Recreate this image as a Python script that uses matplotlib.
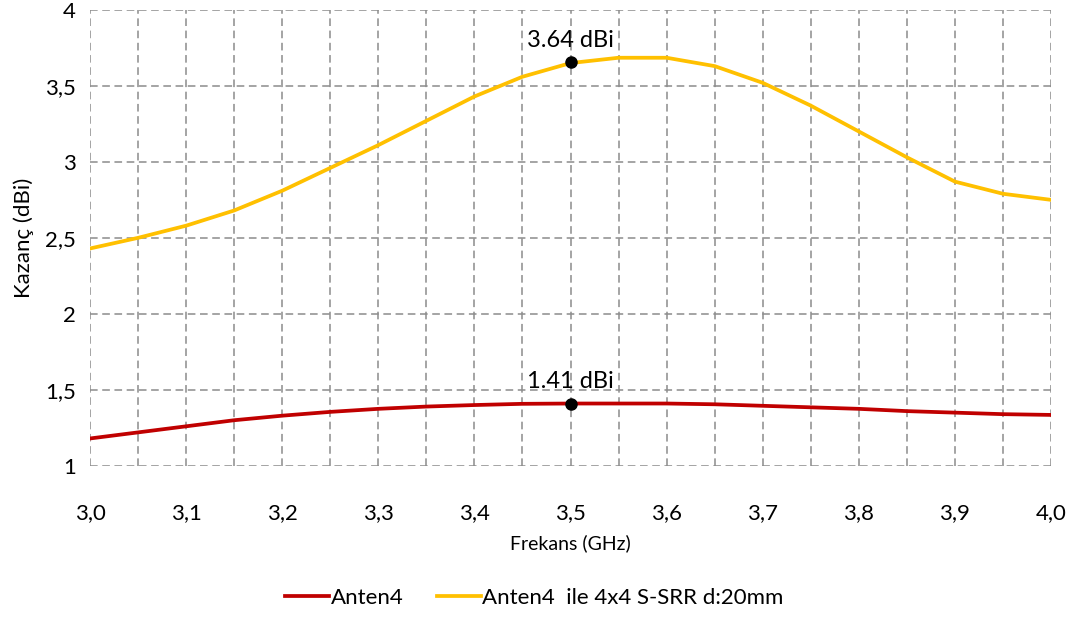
import matplotlib.pyplot as plt
from matplotlib.ticker import FuncFormatter, MultipleLocator

plt.rcParams['font.family'] = ['Lato', 'DejaVu Sans']

# frekans (GHz)
freq = [3.00, 3.05, 3.10, 3.15, 3.20, 3.25, 3.30, 3.35, 3.40, 3.45, 3.50,
        3.55, 3.60, 3.65, 3.70, 3.75, 3.80, 3.85, 3.90, 3.95, 4.00]

# Anten4
gain_anten4 = [1.18, 1.22, 1.26, 1.30, 1.33, 1.355, 1.375, 1.39, 1.40, 1.408, 1.41,
               1.41, 1.41, 1.405, 1.395, 1.385, 1.375, 1.36, 1.35, 1.34, 1.335]

# Anten4 ile 4x4 S-SRR d:20mm
gain_ssrr = [2.43, 2.50, 2.58, 2.68, 2.81, 2.96, 3.11, 3.27, 3.43, 3.56, 3.65,
             3.685, 3.685, 3.63, 3.52, 3.37, 3.20, 3.03, 2.87, 2.79, 2.75]

peak_f = 3.5
peak_anten4 = 1.41
peak_ssrr = 3.655

fig, ax = plt.subplots(figsize=(10.75, 6.17), dpi=100)
fig.subplots_adjust(left=0.0837, right=0.9777, top=0.984, bottom=0.245)

ax.plot(freq, gain_anten4, color='#C00000', lw=2.7, label='Anten4')
ax.plot(freq, gain_ssrr, color='#FFC000', lw=2.7, label='Anten4  ile 4x4 S-SRR d:20mm')

ax.plot([peak_f], [peak_ssrr], 'o', color='black', ms=8, zorder=5)
ax.plot([peak_f], [peak_anten4], 'o', color='black', ms=8, zorder=5)
ax.annotate('3.64 dBi', (peak_f, peak_ssrr), xytext=(0, 8), textcoords='offset points',
            ha='center', va='bottom', fontsize=17)
ax.annotate('1.41 dBi', (peak_f, peak_anten4), xytext=(0, 8), textcoords='offset points',
            ha='center', va='bottom', fontsize=17)

ax.set_xlim(3.0, 4.0)
ax.set_ylim(1, 4)
ax.xaxis.set_major_locator(MultipleLocator(0.1))
ax.xaxis.set_minor_locator(MultipleLocator(0.05))
ax.yaxis.set_major_locator(MultipleLocator(0.5))

ax.xaxis.set_major_formatter(FuncFormatter(lambda v, p: f'{v:.1f}'.replace('.', ',')))
ax.yaxis.set_major_formatter(FuncFormatter(lambda v, p: f'{v:g}'.replace('.', ',')))

ax.grid(True, which='both', axis='x', ls=(0, (5, 3)), color='#8c8c8c', lw=1.1)
ax.grid(True, which='major', axis='y', ls=(0, (5, 3)), color='#8c8c8c', lw=1.1)
ax.set_axisbelow(True)
for s in ax.spines.values():
    s.set_visible(False)

ax.tick_params(axis='both', which='both', length=0, labelsize=16)
ax.tick_params(axis='x', pad=27)
ax.tick_params(axis='y', pad=10)

ax.set_xlabel('Frekans (GHz)', fontsize=14, labelpad=8)
ax.set_ylabel('Kazanç (dBi)', fontsize=16, labelpad=8)

fig.legend(loc='center', bbox_to_anchor=(0.497, 0.031), ncol=2, frameon=False,
           fontsize=16, handlelength=2.0, handletextpad=0.05, columnspacing=1.5)

fig.savefig('out.png', dpi=100)
